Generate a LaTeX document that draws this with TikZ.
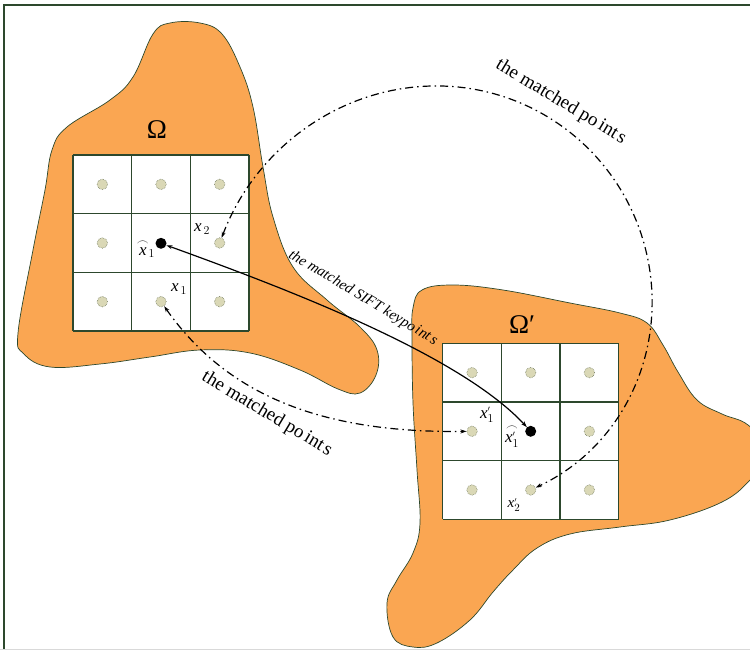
\documentclass[tikz,border=0pt]{standalone}
\usepackage{fontspec}
\setmainfont{Liberation Serif}
\usetikzlibrary{arrows.meta}
\definecolor{blobfill}{RGB}{250,166,82}
\definecolor{edgegreen}{RGB}{45,72,45}
\definecolor{spotfill}{RGB}{218,216,182}
\definecolor{spotedge}{RGB}{120,128,100}
\newcommand{\vx}{\textit{x}}
\newcommand{\arched}[1]{\stackrel{\frown}{#1}}
\begin{document}
\begin{tikzpicture}[x=1pt,y=-1pt,
  blob/.style={fill=blobfill, draw=edgegreen, line width=0.7pt},
  gridline/.style={draw=edgegreen, line width=1.1pt},
  spot/.style={circle, fill=spotfill, draw=spotedge, densely dotted, line width=0.6pt, minimum size=10.5pt, inner sep=0pt},
  keydot/.style={circle, fill=black, minimum size=11pt, inner sep=0pt},
  link/.style={line width=1.2pt, {Stealth[length=6pt,width=4pt]}-{Stealth[length=6pt,width=4pt]}},
  dashdot/.style={link, dash pattern=on 8pt off 4pt on 1.5pt off 4pt},
  omega/.style={font=\fontsize{27}{30}\selectfont, inner sep=0pt},
  xl/.style={font=\fontsize{17}{20}\selectfont, inner sep=0pt},
  caption/.style={font=\fontsize{19}{21}\selectfont, inner sep=0pt, rotate=-31},
  captionit/.style={font=\fontsize{15}{17}\selectfont\itshape, inner sep=0pt, rotate=-31}
]
\useasboundingbox (0,0) rectangle (750,650);

% outer frame
\draw[edgegreen, line width=1.4pt] (4,760) -- (4,5) -- (760,5);
\draw[black!15, line width=1pt] (0,649.5) -- (750,649.5);

% region Omega
\draw[blob] plot[smooth cycle, tension=0.65] coordinates {
  (170,23) (200,23) (222,34) (240,67) (253,107) (263,167) (273,217)
  (293,267) (327,300) (360,327) (377,350) (376,375) (360,393) (338,389)
  (300,370) (250,353) (200,350) (150,357) (100,364) (50,367) (24,354)
  (18,333) (33,250) (45,190) (52,150) (67,127) (110,100) (133,77) (153,34)};

% region Omega'
\draw[blob] plot[smooth cycle, tension=0.65] coordinates {
  (422,290) (453,285) (503,290) (570,303) (620,313) (647,323) (663,345)
  (678,372) (697,400) (722,414) (748,425) (770,452) (750,480) (722,502)
  (670,520) (620,527) (570,534) (537,548) (513,570) (493,592) (470,620)
  (437,643) (413,647) (393,637) (387,603) (397,580) (413,553) (420,523)
  (417,470) (413,403) (412,337) (413,308)};

% 3x3 patches
\foreach \ox/\oy in {73/155, 442.7/343.3} {
  \fill[white] (\ox,\oy) rectangle ++(176,176);
  \foreach \k in {0,1,2,3} {
    \draw[gridline] ({\ox+58.67*\k},\oy) -- ++(0,176);
    \draw[gridline] (\ox,{\oy+58.67*\k}) -- ++(176,0);
  }
}

% sample points of the left patch
\foreach \i in {1,2,3} \foreach \j in {1,2,3} {
  \ifnum\i\j=22 \else
    \node[spot] (L\i\j) at ({73+58.67*(\i-0.5)},{155+58.67*(\j-0.5)}) {};
  \fi
}
% sample points of the right patch
\foreach \i in {1,2,3} \foreach \j in {1,2,3} {
  \ifnum\i\j=22 \else
    \node[spot] (R\i\j) at ({442.7+58.67*(\i-0.5)},{343.3+58.67*(\j-0.5)}) {};
  \fi
}

% keypoints
\node[keydot] (kL) at (161.0,243.3) {};
\node[keydot] (kR) at (530.7,431.3) {};

% region titles
\node[omega] (omL) at (157,130) {Ω};
\node[omega] (omR) at (522,325) {Ω′};

% point labels
\node[xl] (hatL) at (146,249) {$\arched{\vx}_{1}$};
\node[xl] (lx2) at (202,229) {$\vx_{\,2}$};
\node[xl] (lx1) at (179,289) {$\vx_{\,1}$};
\node[xl] (lx1p) at (487,415) {$\vx^{\scriptscriptstyle\prime}_{1}$};
\node[xl] (hatR) at (512,436) {$\arched{\vx^{\scriptscriptstyle\prime}_{1}}$};
\node[xl, font=\fontsize{15}{17}\selectfont] (lx2p) at (514,505) {$\vx^{\scriptscriptstyle\prime}_{2}$};

% correspondences
\draw[link] (kL) .. controls (290,290) and (460,355) .. (kR);
\draw[dashdot] (L23) .. controls (230,400) and (330,433) .. (R12);
\draw[dashdot] (L32) .. controls (256,147) and (343,84) .. (441,86)
  .. controls (539,88) and (623,156) .. (646,251)
  .. controls (669,346) and (626,445) .. (R23);

% captions
\node[caption] (capTop) at (561,102) {the matched po\hspace{3pt}int\hspace{2pt}s};
\node[captionit] (capSift) at (363,298) {the matched SIFT keypo\hspace{2pt}int\hspace{2pt}s};
\node[caption] (capLow) at (267,414) {the matched po\hspace{3pt}int\hspace{2pt}s};
\end{tikzpicture}
\end{document}
